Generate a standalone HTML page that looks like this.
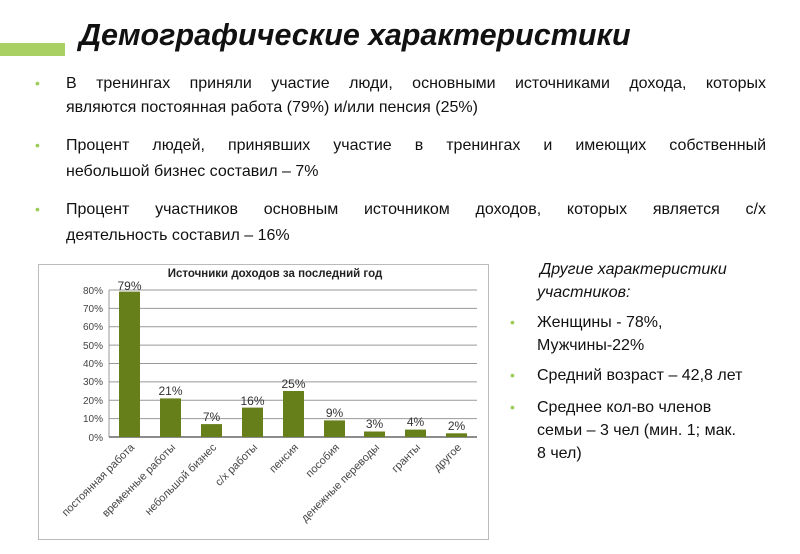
<!DOCTYPE html>
<html><head><meta charset="utf-8"><style>
body{margin:0;width:800px;height:554px;background:#fff;position:relative;overflow:hidden;font-family:"Liberation Sans",sans-serif;color:#111}
.a{position:absolute;white-space:nowrap}
.t{position:absolute;left:66px;width:700px;font-size:16px;text-align:justify;text-align-last:justify;white-space:nowrap}
.t.l{text-align-last:left}
.b{position:absolute;color:#9ccc55;font-size:14px}
.r{position:absolute;left:537px;font-size:16px;white-space:nowrap}
</style></head><body>
<div class="a" style="left:0;top:43px;width:65px;height:13px;background:#a9d063"></div>
<div class="a" style="left:79px;top:18px;font-size:30.5px;font-weight:bold;font-style:italic">Демографические характеристики</div>

<div class="b" style="left:35px;top:75px">•</div>
<div class="t" style="top:75px">В тренингах приняли участие люди, основными источниками дохода, которых</div>
<div class="t l" style="top:99px">являются постоянная работа (79%) и/или пенсия (25%)</div>
<div class="b" style="left:35px;top:137px">•</div>
<div class="t" style="top:137px">Процент людей, принявших участие в тренингах и имеющих собственный</div>
<div class="t l" style="top:163px">небольшой бизнес составил – 7%</div>
<div class="b" style="left:35px;top:201px">•</div>
<div class="t" style="top:201px">Процент участников основным источником доходов, которых является с/х</div>
<div class="t l" style="top:227px">деятельность составил – 16%</div>

<div class="r" style="left:540px;top:261px;font-style:italic">Другие характеристики</div>
<div class="r" style="top:284px;font-style:italic">участников:</div>
<div class="b" style="left:510px;top:314px">•</div>
<div class="r" style="top:314px">Женщины - 78%,</div>
<div class="r" style="top:337px">Мужчины-22%</div>
<div class="b" style="left:510px;top:367px">•</div>
<div class="r" style="top:367px">Средний возраст – 42,8 лет</div>
<div class="b" style="left:510px;top:399px">•</div>
<div class="r" style="top:399px">Среднее кол-во членов</div>
<div class="r" style="top:422px">семьи – 3 чел (мин. 1; мак.</div>
<div class="r" style="top:445px">8 чел)</div>

<svg class="a" style="left:0;top:0" width="800" height="554" font-family="Liberation Sans, sans-serif">
<rect x="38.5" y="264.5" width="450" height="275" fill="none" stroke="#bbb"/>
<text x="275" y="277" font-size="11.5" font-weight="bold" text-anchor="middle" fill="#222">Источники доходов за последний год</text>
<g stroke="#999" stroke-width="1">
<line x1="109" x2="477" y1="290" y2="290"/><line x1="109" x2="477" y1="308.4" y2="308.4"/>
<line x1="109" x2="477" y1="326.8" y2="326.8"/><line x1="109" x2="477" y1="345.1" y2="345.1"/>
<line x1="109" x2="477" y1="363.5" y2="363.5"/><line x1="109" x2="477" y1="381.9" y2="381.9"/>
<line x1="109" x2="477" y1="400.3" y2="400.3"/><line x1="109" x2="477" y1="418.6" y2="418.6"/>
<line x1="109" x2="109" y1="290" y2="437"/>
</g>
<line x1="109" x2="477" y1="437" y2="437" stroke="#666" stroke-width="1.5"/>
<g font-size="10" fill="#444" text-anchor="end">
<text x="103" y="294">80%</text><text x="103" y="312">70%</text><text x="103" y="330">60%</text>
<text x="103" y="349">50%</text><text x="103" y="367">40%</text><text x="103" y="385">30%</text>
<text x="103" y="404">20%</text><text x="103" y="422">10%</text><text x="103" y="441">0%</text>
</g>
<g fill="#667f1b">
<rect x="119" y="291.6" width="21" height="145.4"/>
<rect x="160" y="398.4" width="21" height="38.6"/>
<rect x="201" y="424.1" width="21" height="12.9"/>
<rect x="242" y="407.6" width="21" height="29.4"/>
<rect x="283" y="391" width="21" height="46"/>
<rect x="324" y="420.4" width="21" height="16.6"/>
<rect x="364" y="431.5" width="21" height="5.5"/>
<rect x="405" y="429.6" width="21" height="7.4"/>
<rect x="446" y="433.3" width="21" height="3.7"/>
</g>
<g font-size="12" fill="#333" text-anchor="middle">
<text x="129.5" y="290">79%</text><text x="170.5" y="395">21%</text><text x="211.5" y="421">7%</text>
<text x="252.5" y="405">16%</text><text x="293.5" y="388">25%</text><text x="334.5" y="417">9%</text>
<text x="374.5" y="428">3%</text><text x="415.5" y="426">4%</text><text x="456.5" y="430">2%</text>
</g>
<g font-size="11" fill="#444" text-anchor="end">
<text transform="translate(135,448) rotate(-45)">постоянная работа</text>
<text transform="translate(176,448) rotate(-45)">временные работы</text>
<text transform="translate(217,448) rotate(-45)">небольшой бизнес</text>
<text transform="translate(258,448) rotate(-45)">с/х работы</text>
<text transform="translate(299,448) rotate(-45)">пенсия</text>
<text transform="translate(340,448) rotate(-45)">пособия</text>
<text transform="translate(380,448) rotate(-45)">денежные переводы</text>
<text transform="translate(421,448) rotate(-45)">гранты</text>
<text transform="translate(462,448) rotate(-45)">другое</text>
</g>
</svg>
</body></html>
